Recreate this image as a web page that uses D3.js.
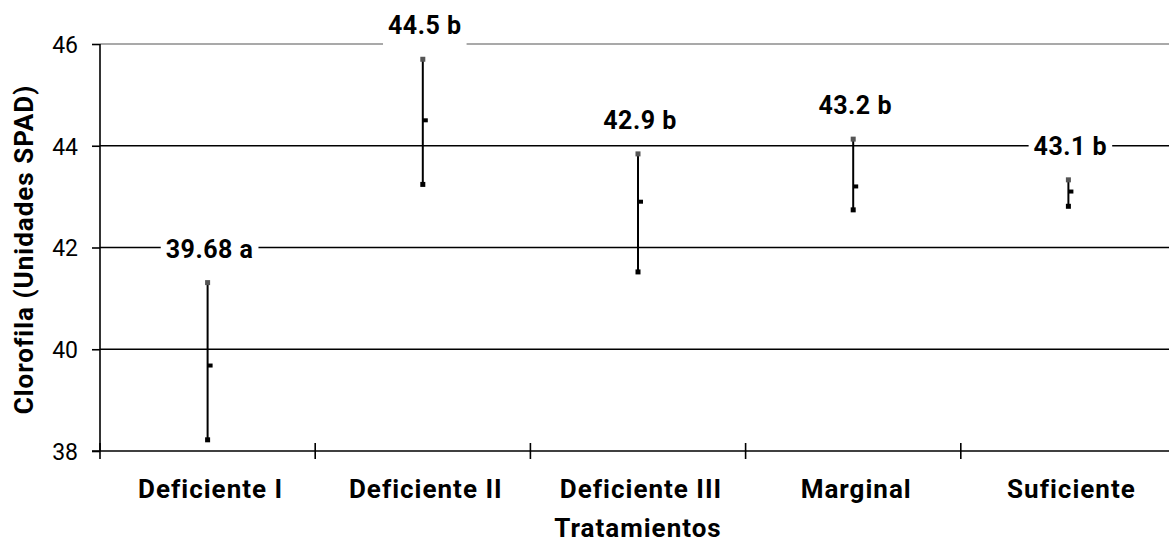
<!DOCTYPE html>
<html>
<head>
<meta charset="utf-8">
<script src="https://cdn.jsdelivr.net/npm/d3@7"></script>
<style>
  html, body { margin: 0; padding: 0; background: #fff; }
  svg { display: block; }
  text { font-family: Roboto, "Liberation Sans", sans-serif; }
</style>
</head>
<body>
<svg id="chart" width="1169" height="545"></svg>
<script>
const categories = ["Deficiente I", "Deficiente II", "Deficiente III", "Marginal", "Suficiente"];
const means = [39.68, 44.5, 42.9, 43.2, 43.1];
const upper = [41.31, 45.70, 43.84, 44.13, 43.33];
const lower = [38.22, 43.24, 41.52, 42.74, 42.81];
const letters = ["a", "b", "b", "b", "b"];
const yTicks = [38, 40, 42, 44, 46];
const yTitle = "Clorofila (Unidades SPAD)";
const xTitle = "Tratamientos";

(function () {
const svg = d3.select("#chart");
const mLeft = 100, mRight = 1176, mTop = 44, mBottom = 451;
const FS = 26;

const x = d3.scaleBand().domain(categories).range([mLeft, mRight]).paddingInner(0).paddingOuter(0);
const y = d3.scaleLinear().domain([38, 46]).range([mBottom, mTop]);

// gridlines
svg.append("g").selectAll("line").data(yTicks.filter(v => v !== 38)).join("line")
  .attr("x1", mLeft).attr("x2", 1169)
  .attr("y1", d => y(d)).attr("y2", d => y(d))
  .attr("stroke", d => d === 46 ? "#8c8c8c" : "#000")
  .attr("stroke-width", 1.6);

// y axis
const yAxis = svg.append("g").attr("transform", `translate(${mLeft},0)`)
  .call(d3.axisLeft(y).tickValues(yTicks).tickSize(8).tickPadding(14).tickFormat(d3.format("d")));
yAxis.select(".domain").attr("stroke", "#000").attr("stroke-width", 1.6).attr("d", `M0,${mTop}V${mBottom}`);
yAxis.selectAll(".tick line").attr("stroke", "#000").attr("stroke-width", 1.6);
yAxis.selectAll(".tick text").attr("font-size", 23).attr("fill", "#000").attr("dy", "0.36em")
  .attr("font-family", "Roboto, sans-serif").attr("x", -22);

// x axis
const xAxis = svg.append("g").attr("transform", `translate(0,${mBottom})`);
xAxis.append("line").attr("x1", mLeft - 8).attr("x2", 1169).attr("y1", 0).attr("y2", 0)
  .attr("stroke", "#000").attr("stroke-width", 1.6);
xAxis.selectAll("line.tk").data(categories).join("line").attr("class", "tk")
  .attr("x1", d => x(d)).attr("x2", d => x(d)).attr("y1", -8).attr("y2", 8)
  .attr("stroke", "#000").attr("stroke-width", 1.6);
xAxis.selectAll("text.cat").data(categories).join("text").attr("class", "cat")
  .attr("x", d => x(d) + x.bandwidth() / 2 + 3).attr("y", 47)
  .attr("text-anchor", "middle").attr("font-size", FS).attr("letter-spacing", 1)
  .attr("font-weight", "bold").text(d => d);

// titles
svg.append("text").attr("x", (mLeft + mRight) / 2).attr("y", 537)
  .attr("text-anchor", "middle").attr("font-size", FS).attr("letter-spacing", 1)
  .attr("font-weight", "bold").text(xTitle);
svg.append("text").attr("transform", `translate(33,${(mTop + mBottom) / 2 + 2}) rotate(-90)`)
  .attr("text-anchor", "middle").attr("font-size", FS).attr("letter-spacing", 1)
  .attr("font-weight", "bold").text(yTitle);

// error bars
const g = svg.append("g");
categories.forEach((c, i) => {
  const cx = x(c) + x.bandwidth() / 2;
  g.append("line").attr("x1", cx).attr("x2", cx).attr("y1", y(upper[i])).attr("y2", y(lower[i]))
    .attr("stroke", "#000").attr("stroke-width", 2);
  g.append("rect").attr("x", cx - 2.5).attr("y", y(upper[i]) - 2.5).attr("width", 5).attr("height", 5).attr("fill", "#555");
  g.append("rect").attr("x", cx - 2.5).attr("y", y(lower[i]) - 2.5).attr("width", 5).attr("height", 5).attr("fill", "#000");
  g.append("rect").attr("x", cx).attr("y", y(means[i]) - 2).attr("width", 5).attr("height", 4).attr("fill", "#000");

  const lbl = `${means[i]} ${letters[i]}`;
  const ly = y(upper[i]) - 34;
  const t = g.append("text").attr("x", cx + 2).attr("y", ly).attr("dy", "0.36em")
    .attr("text-anchor", "middle").attr("font-size", 25).attr("letter-spacing", 0.5)
    .attr("font-weight", "bold").text(lbl);
  const bb = t.node().getBBox();
  g.insert("rect", function() { return t.node(); })
    .attr("x", bb.x - 5).attr("y", ly - 22).attr("width", bb.width + 10).attr("height", 44).attr("fill", "#fff");
});
})();
</script>
</body>
</html>
